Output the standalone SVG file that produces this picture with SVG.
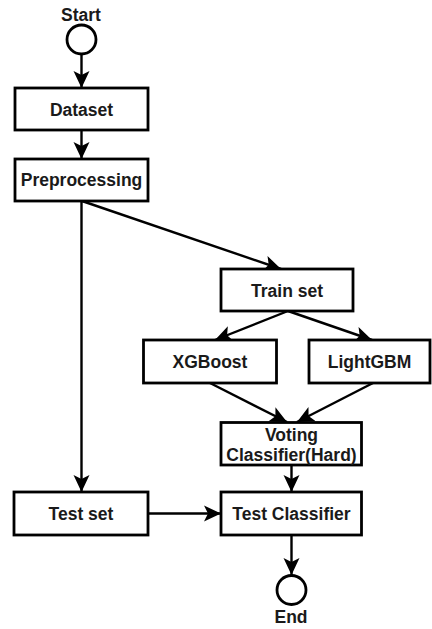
<svg xmlns="http://www.w3.org/2000/svg" width="432" height="629" viewBox="0 0 432 629">
<style>
.box{fill:#fff;stroke:#000;stroke-width:2.8}
.lbl{font-family:"Liberation Sans",Arial,sans-serif;font-weight:bold;font-size:17.5px;fill:#1a1a1a;text-anchor:middle}
.edge{fill:none;stroke:#000;stroke-width:2.4;marker-end:url(#arr)}
</style>
<defs>
<marker id="arr" markerUnits="userSpaceOnUse" markerWidth="18" markerHeight="18" viewBox="0 0 18 18" refX="17" refY="9" orient="auto">
<path d="M0,1 L17,9 L0,17 L4,9 z" fill="#000"/>
</marker>
</defs>
<rect width="432" height="629" fill="#fff"/>
<g id="connectors">
<line class="edge" x1="81.5" y1="54" x2="81.5" y2="88"/>
<line class="edge" x1="81.5" y1="130" x2="81.5" y2="159"/>
<line class="edge" x1="82" y1="201" x2="281" y2="269"/>
<line class="edge" x1="81.5" y1="201" x2="81.5" y2="492"/>
<line class="edge" x1="288" y1="311" x2="215" y2="340"/>
<line class="edge" x1="288" y1="311" x2="372" y2="340"/>
<line class="edge" x1="210" y1="383" x2="287" y2="422"/>
<line class="edge" x1="373" y1="383" x2="297" y2="422"/>
<line class="edge" x1="291.5" y1="465" x2="291.5" y2="492"/>
<line class="edge" x1="148" y1="513.5" x2="221" y2="513.5"/>
<line class="edge" x1="291.5" y1="535" x2="291.5" y2="575"/>
</g>
<g id="start">
<circle class="box" cx="81.5" cy="39.5" r="14.5"/>
<text class="lbl" x="81" y="20.5">Start</text>
</g>
<g id="dataset">
<rect class="box" x="15" y="88" width="133" height="42"/>
<text class="lbl" x="81.5" y="115.5">Dataset</text>
</g>
<g id="preprocessing">
<rect class="box" x="15" y="159" width="133" height="42"/>
<text class="lbl" x="81.5" y="186">Preprocessing</text>
</g>
<g id="trainset">
<rect class="box" x="221" y="269" width="132" height="42"/>
<text class="lbl" x="287" y="296.5">Train set</text>
</g>
<g id="xgboost">
<rect class="box" x="143.5" y="340" width="133" height="43"/>
<text class="lbl" x="210" y="367.5">XGBoost</text>
</g>
<g id="lightgbm">
<rect class="box" x="309" y="340" width="121" height="43"/>
<text class="lbl" x="369.5" y="367.5">LightGBM</text>
</g>
<g id="voting">
<rect class="box" x="221" y="422.5" width="140.5" height="42.5"/>
<text class="lbl" x="291.5" y="440.5">Voting</text>
<text class="lbl" x="291.5" y="461">Classifier(Hard)</text>
</g>
<g id="testset">
<rect class="box" x="14" y="492" width="134" height="43"/>
<text class="lbl" x="81" y="519.5">Test set</text>
</g>
<g id="testclassifier">
<rect class="box" x="221" y="492" width="140.5" height="43"/>
<text class="lbl" x="291.5" y="519.5">Test Classifier</text>
</g>
<g id="end">
<circle class="box" cx="291.5" cy="590" r="14.5"/>
<text class="lbl" x="291" y="623">End</text>
</g>
</svg>
